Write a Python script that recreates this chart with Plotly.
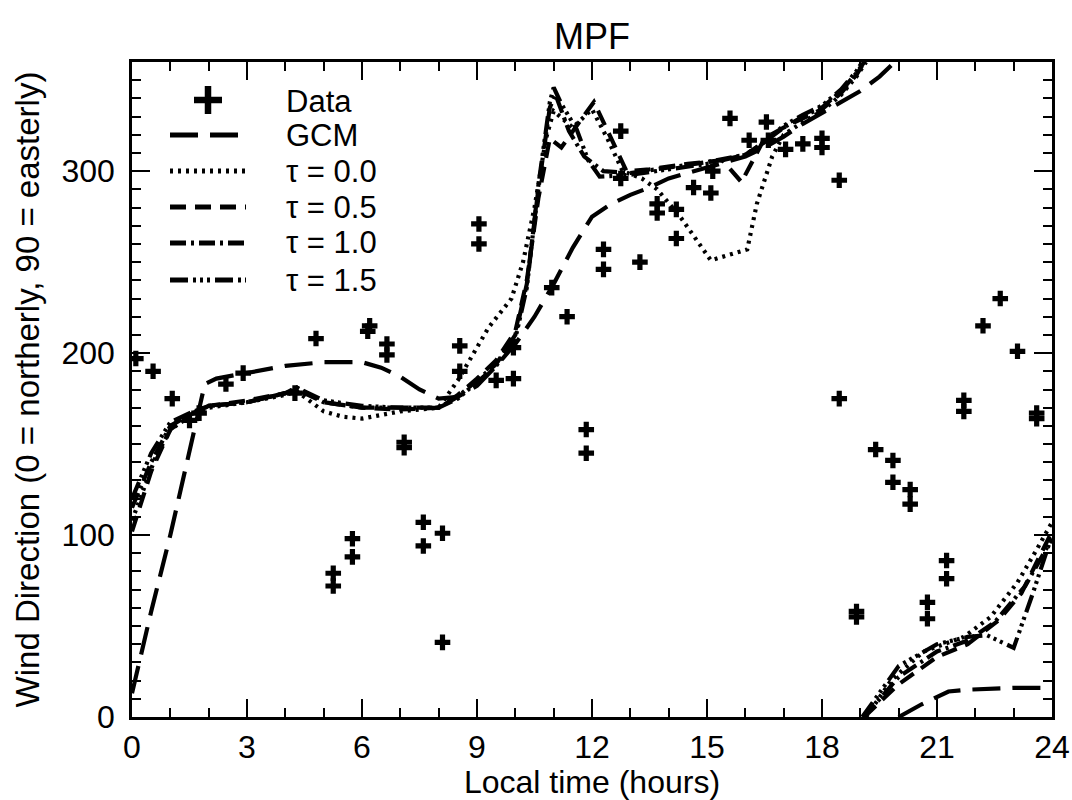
import plotly.graph_objects as go

# ---------------- data ----------------
data_hour = [0.1, 0.55, 1.05, 1.5, 1.75, 2.45, 2.9, 4.25, 4.8, 6.15, 6.2, 6.65, 6.65, 7.1, 7.1,
             8.55, 8.55, 5.25, 5.25, 5.75, 5.75, 7.6, 7.6, 8.1, 8.1, 9.05, 9.05, 9.5, 9.95, 9.95,
             10.95, 11.35, 11.85, 11.85, 12.3, 12.3, 12.75, 12.75, 13.25, 13.7, 13.7, 14.2, 14.2,
             14.65, 15.1, 15.15, 15.6, 16.1, 16.55, 16.6, 17.05, 17.5, 18.0, 18.0, 18.45, 18.45,
             18.9, 18.9, 19.4, 19.85, 19.85, 20.3, 20.3, 20.75, 20.75, 21.25, 21.25, 21.7, 21.7,
             22.2, 22.65, 23.1, 23.6, 23.6]
data_dir = [197, 190, 175, 163, 167, 183, 189, 178, 208, 212, 215, 205, 199, 151, 148,
            204, 190, 79, 72, 98, 88, 107, 94, 101, 41, 271, 260, 185, 186, 203,
            236, 220, 158, 145, 257, 246, 322, 296, 250, 282, 277, 279, 263,
            291, 288, 300, 329, 317, 327, 317, 312, 315, 318, 313, 295, 175,
            58, 55, 147, 141, 129, 125, 117, 63, 54, 86, 76, 174, 168,
            215, 230, 201, 167, 164]

# model curves (None = wrap from 360 back to 0)
gcm_hour = [0, 0.5, 1.0, 1.5, 1.9, 2.2, 3, 4, 5, 6, 6.5, 7, 7.5, 8, 8.5, 9, 9.5, 10, 10.5,
            11, 11.5, 12, 12.5, 13, 13.5, 14, 15, 16, 16.5, 17, 17.5, 18, 18.5, 19, 19.5, 19.9,
            None, 20.0, 20.6, 21.3, 21.8, 23, 24]
gcm_dir = [13, 58, 100, 145, 183, 186, 189, 193, 195, 195, 192, 187, 180, 175, 176, 182, 193, 205, 220,
           238, 258, 275, 282, 287, 291, 296, 302, 308, 313, 319, 326, 332, 338, 344, 352, 360,
           None, 0, 7, 14, 15, 16, 16]

tau00_hour = [0, 0.3, 0.6, 1.0, 1.5, 2, 3, 4, 4.3, 5, 5.5, 6, 6.5, 7, 7.5, 8, 8.5, 9, 9.3, 9.9,
              10.2, 10.5, 10.8, 11.0, 11.5, 12.0, 12.4, 12.8, 13.3, 13.7, 14.3, 15.1, 16.05, 16.3,
              16.7, 17, 17.5, 18, 18.5, 18.9, 19.15, None, 19.15, 19.8, 20.65, 21.7, 22.4, 23.1,
              23.6, 24]
tau00_dir = [108, 125, 142, 158, 165, 170, 173, 177, 179, 168, 165, 164, 166, 168, 169, 170, 185, 203, 214, 230,
             250, 280, 318, 333, 324, 334, 318, 300, 296, 290, 275, 251, 257, 282,
             308, 320, 327, 333, 342, 352, 360, None, 0, 20, 36, 44, 55, 74,
             92, 107]

tau05_hour = [0, 0.5, 1, 1.5, 2, 3, 4, 4.3, 5, 6, 7, 8, 8.5, 9, 9.5, 10, 10.3, 10.6, 10.9, 11.2,
              11.6, 12.05, 12.5, 12.9, 13.5, 14.5, 15.4, 15.9, 16.5, 17, 17.5, 18, 18.5, 18.9, 19.1,
              None, 19.1, 20, 21, 21.8, 22.6, 23.2, 24]
tau05_dir = [102, 135, 158, 166, 171, 174, 178, 180, 173, 170, 169, 170, 177, 186, 196, 212, 240, 285, 318, 313,
             325, 338, 318, 300, 301, 304, 306, 294, 318, 324, 329, 334, 343, 353, 360,
             None, 0, 18, 33, 40, 53, 68, 102]

tau10_hour = [0, 0.5, 1, 1.5, 2, 3, 4, 4.3, 5, 6, 7, 8, 8.5, 9, 9.5, 10, 10.3, 10.6, 10.9, 11.05,
              11.4, 11.8, 12.3, 13, 14, 15, 16, 16.5, 17, 17.5, 18, 18.5, 18.9, 19.1,
              None, 19.1, 20, 21, 21.8, 22.5, 23.3, 24]
tau10_dir = [115, 140, 160, 166, 171, 173, 178, 181, 173, 170, 170, 170, 176, 185, 194, 210, 238, 290, 335, 342,
             322, 308, 300, 299, 302, 305, 309, 316, 324, 330, 335, 344, 354, 360,
             None, 0, 22, 36, 42, 52, 72, 98]

tau15_hour = [0, 0.5, 1, 1.5, 2, 3, 4, 4.3, 5, 6, 7, 8, 8.5, 9, 9.5, 10, 10.3, 10.6, 10.9, 11.0,
              11.2, 11.6, 11.9, 12.2, 13, 14, 15, 16, 16.5, 17, 17.5, 18, 18.5, 18.9, 19.05,
              None, 19.05, 20, 21, 21.8, 22.3, 23.0, 23.5, 24]
tau15_dir = [120, 145, 162, 167, 171, 173, 178, 181, 174, 171, 170, 170, 175, 184, 193, 208, 236, 292, 338, 346,
             337, 323, 306, 297, 298, 301, 304, 309, 316, 325, 331, 336, 345, 355, 360,
             None, 0, 28, 40, 44, 45, 38, 68, 100]

series_names = ["GCM", "\u03c4 = 0.0", "\u03c4 = 0.5", "\u03c4 = 1.0", "\u03c4 = 1.5"]
x_ticks = [0, 3, 6, 9, 12, 15, 18, 21, 24]
y_ticks = [0, 100, 200, 300]

# ---------------- styling ----------------
FONT = "Liberation Sans, Arial, Helvetica, sans-serif"
LW = 4.2
dashes = ["28px,12px", "3px,5px", "16px,9px", "16px,5px,3px,5px",
          "18px,5px,3px,4px,3px,4px,3px,5px"]

fig = go.Figure()

curves = [(gcm_hour, gcm_dir), (tau00_hour, tau00_dir), (tau05_hour, tau05_dir),
          (tau10_hour, tau10_dir), (tau15_hour, tau15_dir)]
for (xs, ys), name, dash in zip(curves, series_names, dashes):
    fig.add_trace(go.Scatter(x=xs, y=ys, mode="lines", name=name,
                             line=dict(color="black", width=LW, dash=dash),
                             connectgaps=False))

fig.add_trace(go.Scatter(x=data_hour, y=data_dir, mode="markers", name="Data",
                         marker=dict(symbol="cross", size=13, color="black",
                                     line=dict(width=0))))

# plot-area geometry in pixels
L, R, T, B = 132, 1052, 62, 717
W, H = R - L, B - T


def px(xp):
    return (xp - L) / W


def py(yp):
    return (B - yp) / H


# manual legend (IDL style)
legend_labels = ["Data"] + series_names
row_y = [101, 135, 171, 207, 243, 280]
for lab, yy in zip(legend_labels, row_y):
    fig.add_annotation(x=px(284), y=py(yy), xref="paper", yref="paper", text=lab,
                       showarrow=False, xanchor="left", yanchor="middle",
                       font=dict(family=FONT, size=31, color="black"))
# plus symbol for Data
fig.add_shape(type="line", xref="paper", yref="paper", x0=px(194), x1=px(222),
              y0=py(100), y1=py(100), line=dict(color="black", width=6.5))
fig.add_shape(type="line", xref="paper", yref="paper", x0=px(208), x1=px(208),
              y0=py(86), y1=py(114), line=dict(color="black", width=6.5))
for yy, dash in zip(row_y[1:], dashes):
    fig.add_shape(type="line", xref="paper", yref="paper", x0=px(170), x1=px(246),
                  y0=py(yy), y1=py(yy), line=dict(color="black", width=5, dash=dash))

axis_common = dict(showline=True, linecolor="black", linewidth=2.5, mirror="ticks",
                   ticks="inside", ticklen=18, tickwidth=2, tickcolor="black",
                   showgrid=False, zeroline=False,
                   tickfont=dict(family=FONT, size=32, color="black"))

fig.update_xaxes(range=[0, 24], tickvals=x_ticks, ticklabelstandoff=0,
                 minor=dict(ticks="inside", ticklen=9, tickwidth=2, dtick=1, tick0=0,
                            tickcolor="black", showgrid=False),
                 title=dict(text="Local time (hours)", standoff=9,
                            font=dict(family=FONT, size=32, color="black")),
                 **axis_common)
fig.update_yaxes(range=[0, 360], tickvals=y_ticks, ticklabelstandoff=8,
                 minor=dict(ticks="inside", ticklen=9, tickwidth=2, dtick=10, tick0=0,
                            tickcolor="black", showgrid=False),
                 title=dict(text="Wind Direction (0 = northerly, 90 = easterly)", standoff=12,
                            font=dict(family=FONT, size=33, color="black")),
                 **axis_common)

fig.update_layout(width=1072, height=800,
                  margin=dict(l=L, r=1072 - R, t=T, b=800 - B, autoexpand=False),
                  paper_bgcolor="white", plot_bgcolor="white", showlegend=False,
                  font=dict(family=FONT, color="black"),
                  title=dict(text="MPF", x=px(592), xref="paper", xanchor="center",
                             y=1 - 36 / 800, yref="container", yanchor="middle",
                             font=dict(family=FONT, size=36, color="black")))

fig.write_html("out.html")
